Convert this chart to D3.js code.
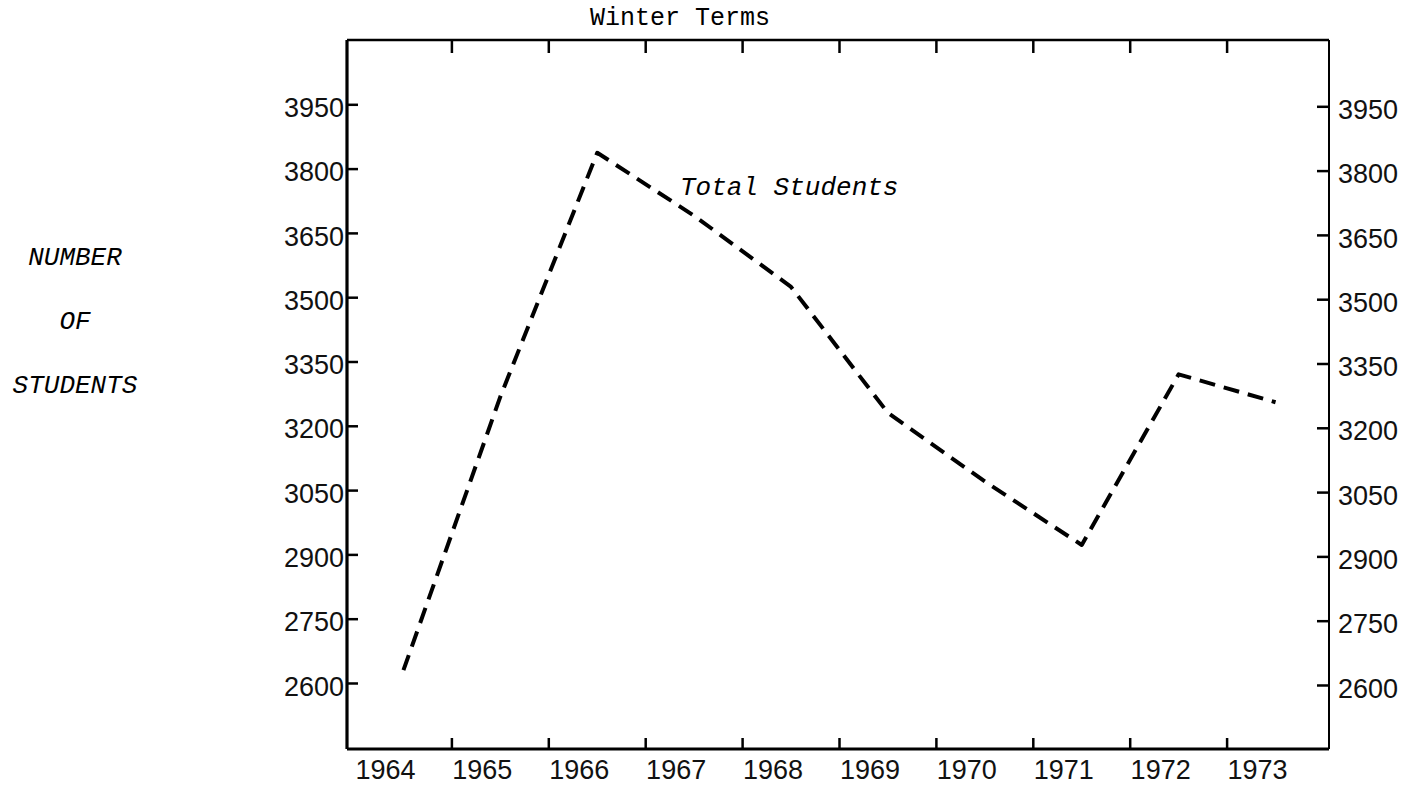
<!DOCTYPE html>
<html>
<head>
<meta charset="utf-8">
<script src="https://cdn.jsdelivr.net/npm/d3@7"></script>
<style>
  body { margin: 0; background: #fff; }
  svg { display: block; }
  .tick text { font-family: "Liberation Sans", Arial, sans-serif; font-size: 27px; fill: #111; }
</style>
</head>
<body>
<svg id="chart" width="1420" height="789"></svg>
<script>
const years = [1964, 1965, 1966, 1967, 1968, 1969, 1970, 1971, 1972, 1973];
const students = [2630, 3268, 3837, 3690, 3524, 3230, 3070, 2922, 3320, 3255];
const yTicks = [2600, 2750, 2900, 3050, 3200, 3350, 3500, 3650, 3800, 3950];
const sideLabel = ["NUMBER", "OF", "STUDENTS"];

const svg = d3.select("#chart");

const plotL = 347, plotR = 1329, plotT = 40, plotB = 749;

const x = d3.scaleBand().domain(years).range([355, 1324]);
const y = d3.scaleLinear().domain([2446, 4100]).range([plotB, plotT]);

// frame
svg.append("line").attr("x1", plotL).attr("x2", plotL).attr("y1", plotT).attr("y2", plotB)
    .attr("stroke", "#000").attr("stroke-width", 3.2);
svg.append("line").attr("x1", plotR).attr("x2", plotR).attr("y1", plotT).attr("y2", plotB)
    .attr("stroke", "#000").attr("stroke-width", 2);
svg.append("line").attr("x1", plotL).attr("x2", plotR).attr("y1", plotT).attr("y2", plotT)
    .attr("stroke", "#000").attr("stroke-width", 2.6);
svg.append("line").attr("x1", plotL).attr("x2", plotR).attr("y1", plotB).attr("y2", plotB)
    .attr("stroke", "#000").attr("stroke-width", 3);

// y axes
const yLeft = svg.append("g").attr("transform", "translate(" + plotL + ",0)")
    .call(d3.axisLeft(y).tickValues(yTicks).tickFormat(d3.format("d")).tickSize(-11).tickPadding(3));
yLeft.select(".domain").remove();
yLeft.selectAll(".tick line").attr("stroke-width", 2.5);
yLeft.selectAll(".tick text").attr("dy", "0.45em");

const yRight = svg.append("g").attr("transform", "translate(" + plotR + ",0)")
    .call(d3.axisRight(y).tickValues(yTicks).tickFormat(d3.format("d")).tickSize(-12).tickPadding(9));
yRight.select(".domain").remove();
yRight.selectAll(".tick line").attr("stroke-width", 2.5).attr("transform", "translate(0,2)");
yRight.selectAll(".tick text").attr("dy", "0.45em").attr("transform", "translate(0,2)");

// x axis labels (typed a bit left of the band centres)
const xAxis = svg.append("g").attr("transform", "translate(0," + plotB + ")")
    .call(d3.axisBottom(x).tickSize(0).tickPadding(11));
xAxis.select(".domain").remove();
xAxis.selectAll(".tick text").attr("dx", "-18");

// boundary ticks top and bottom
const bounds = years.slice(1);
svg.selectAll(".btick").data(bounds).enter().append("line")
    .attr("x1", d => x(d)).attr("x2", d => x(d))
    .attr("y1", plotB).attr("y2", plotB - 11)
    .attr("stroke", "#000").attr("stroke-width", 2.5);
svg.selectAll(".ttick").data(bounds).enter().append("line")
    .attr("x1", d => x(d)).attr("x2", d => x(d))
    .attr("y1", plotT).attr("y2", plotT + 13)
    .attr("stroke", "#000").attr("stroke-width", 2.5);

// the line
const line = d3.line()
    .x((d, i) => x(years[i]) + x.bandwidth() / 2)
    .y(d => y(d));

svg.append("path")
    .datum(students)
    .attr("d", line)
    .attr("fill", "none")
    .attr("stroke", "#000")
    .attr("stroke-width", 4)
    .attr("stroke-dasharray", "16 9")
    .attr("stroke-linejoin", "round");

// titles
svg.append("text").attr("x", 680).attr("y", 25)
    .attr("text-anchor", "middle")
    .style("font-family", "'Liberation Mono', 'Courier New', monospace")
    .style("font-size", "25px")
    .text("Winter Terms");

svg.append("text").attr("x", 680).attr("y", 195)
    .style("font-family", "'Liberation Mono', 'Courier New', monospace")
    .style("font-style", "italic")
    .style("font-size", "26px")
    .text("Total Students");

svg.selectAll(".side").data(sideLabel).enter().append("text")
    .attr("x", 75)
    .attr("y", (d, i) => 265 + i * 64)
    .attr("text-anchor", "middle")
    .style("font-family", "'Liberation Mono', 'Courier New', monospace")
    .style("font-style", "italic")
    .style("font-size", "26px")
    .text(d => d);
</script>
</body>
</html>
